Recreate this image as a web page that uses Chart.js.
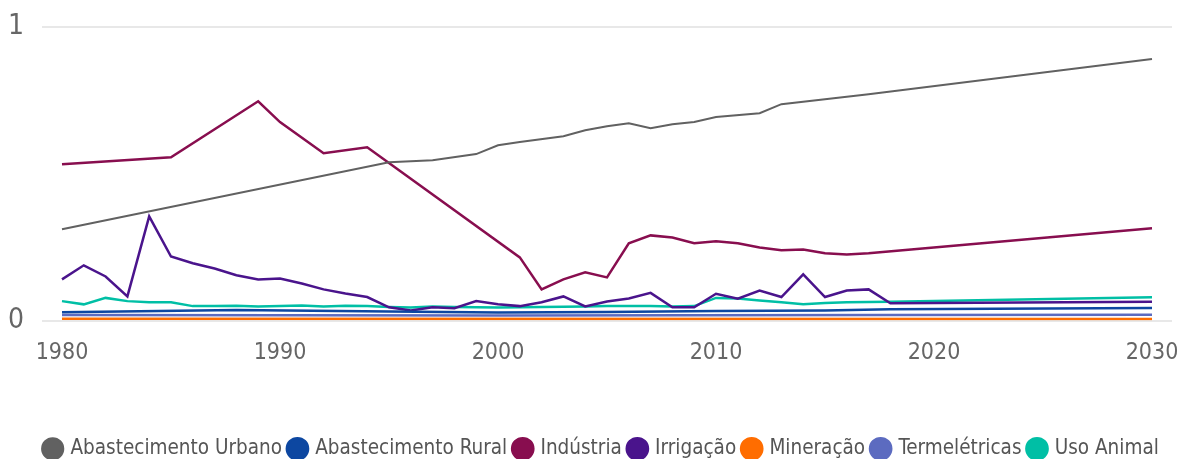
<!DOCTYPE html>
<html>
<head>
<meta charset="utf-8">
<script src="https://cdn.jsdelivr.net/npm/chart.js@4.4.0/dist/chart.umd.min.js"></script>
<style>
html,body{margin:0;padding:0;background:#fff;overflow:hidden;}
#wrap{width:1179px;height:459px;position:relative;overflow:hidden;}
</style>
</head>
<body>
<div id="wrap"><canvas id="c" width="1179" height="469"></canvas></div>
<script>
const years = [1980,1981,1982,1983,1984,1985,1986,1987,1988,1989,
               1990,1991,1992,1993,1994,1995,1996,1997,1998,1999,
               2000,2001,2002,2003,2004,2005,2006,2007,2008,2009,
               2010,2011,2012,2013,2014,2015,2016,2017,2018,2030];

const abastecimentoUrbano = [0.311,null,null,null,null,null,null,null,null,null,
                             null,null,null,null,null,0.539,null,0.546,null,0.567,
                             0.597,0.608,null,0.628,0.648,0.662,0.672,0.655,0.669,0.676,
                             0.693,null,0.706,0.737,null,null,null,0.771,null,0.891];

const abastecimentoRural = [0.028,null,null,null,null,null,null,null,0.036,null,
                            null,null,null,null,null,0.031,null,null,null,null,
                            0.027,null,null,null,null,0.029,null,null,null,null,
                            0.032,null,null,null,null,0.034,null,null,0.038,0.043];

const industria = [0.532,null,null,null,null,0.556,null,null,null,0.747,
                   0.676,null,0.570,null,0.590,null,null,null,null,null,
                   null,0.215,0.106,0.140,0.164,0.147,0.263,0.290,0.283,0.263,
                   0.270,0.263,0.249,0.239,0.242,0.229,0.225,0.229,null,0.314];

const irrigacao = [0.140,0.188,0.150,0.082,0.355,0.218,0.195,0.177,0.154,0.140,
                   0.143,0.126,0.106,0.092,0.080,0.045,0.034,0.045,0.042,0.066,
                   0.055,0.049,0.062,0.082,0.048,0.065,0.075,0.094,0.045,0.045,
                   0.091,0.074,0.102,0.080,0.157,0.080,0.102,0.106,0.059,0.064];

const mineracao = [0.006,null,null,null,null,null,null,null,null,null,
                   null,null,null,null,null,null,null,null,null,null,
                   null,null,null,null,null,null,null,null,null,null,
                   null,null,null,null,null,null,null,null,null,0.005];

const termeletricas = [0.019,null,null,null,null,null,null,null,null,null,
                       null,null,null,null,null,null,null,null,null,null,
                       0.017,null,null,null,null,null,null,null,null,null,
                       null,null,null,null,null,null,null,null,0.019,0.020];

const usoAnimal = [0.066,0.055,0.077,0.066,0.062,0.062,0.049,0.049,0.050,0.048,
                   0.049,0.051,0.048,0.050,0.049,0.046,0.044,0.048,0.046,0.045,
                   0.044,0.045,0.046,0.047,0.048,0.049,0.049,0.049,0.048,0.049,
                   0.077,0.075,0.068,0.062,0.055,0.060,0.062,0.063,0.064,0.079];

const xTicks = [1980,1990,2000,2010,2020,2030];
const yTicks = [0,1];

const seriesNames = ['Abastecimento Urbano','Abastecimento Rural','Indústria','Irrigação','Mineração','Termelétricas','Uso Animal'];
const seriesValues = [abastecimentoUrbano,abastecimentoRural,industria,irrigacao,mineracao,termeletricas,usoAnimal];
const seriesColors = ['#616161','#0D47A1','#880E4F','#4A148C','#FF6D00','#5C6BC0','#00BFA5'];
const seriesWidths = [2,2.5,2.5,2.5,2.5,2.5,2.5];

function toPoints(vals){
  const pts = [];
  vals.forEach((v,i)=>{ if(v!==null) pts.push({x:years[i], y:v}); });
  return pts;
}

const FONT = "'Liberation Sans Narrow','DejaVu Sans Condensed','Roboto Condensed','Liberation Sans',sans-serif";

const datasets = seriesNames.map((name,i)=>({
  label: name,
  data: toPoints(seriesValues[i]),
  borderColor: seriesColors[i],
  backgroundColor: seriesColors[i],
  borderWidth: seriesWidths[i],
  pointRadius: 0,
  pointHoverRadius: 0,
  tension: 0,
  fill: false
}));

const shiftLegend = {
  id: 'shiftLegend',
  afterLayout(chart) {
    if (chart.legend) { chart.legend.left += 16; chart.legend.right += 16; }
  }
};

new Chart(document.getElementById('c'), {
  type: 'line',
  data: { datasets },
  plugins: [shiftLegend],
  options: {
    responsive: false,
    devicePixelRatio: 1,
    animation: false,
    layout: { padding: { left: 0, right: 7, top: 27, bottom: 0 } },
    plugins: {
      tooltip: { enabled: false },
      legend: {
        position: 'bottom',
        labels: {
          usePointStyle: true,
          pointStyle: 'circle',
          boxWidth: 15,
          boxHeight: 15,
          padding: 8,
          color: '#555555',
          font: { family: FONT, size: 20.5 }
        }
      }
    },
    scales: {
      x: {
        type: 'linear',
        min: 1979.083,
        max: 2030.917,
        afterBuildTicks: s => { s.ticks = xTicks.map(v=>({value:v})); },
        afterFit: s => { s.height = 110; s.paddingLeft = 0; s.paddingRight = 0; },
        grid: { display: false },
        border: { display: false },
        ticks: {
          autoSkip: false,
          maxRotation: 0,
          color: '#666666',
          padding: 11,
          font: { family: FONT, size: 23 },
          callback: v => String(v)
        }
      },
      y: {
        min: 0,
        max: 1,
        afterBuildTicks: s => { s.ticks = yTicks.map(v=>({value:v})); },
        afterFit: s => { s.width = 42; s.paddingTop = 0; s.paddingBottom = 0; },
        grid: { color: '#e8e8e8', lineWidth: 2, drawTicks: false },
        border: { display: false },
        ticks: {
          color: '#666666',
          padding: 18,
          font: { family: FONT, size: 28 },
          callback: v => String(v)
        }
      }
    }
  }
});
</script>
</body>
</html>
